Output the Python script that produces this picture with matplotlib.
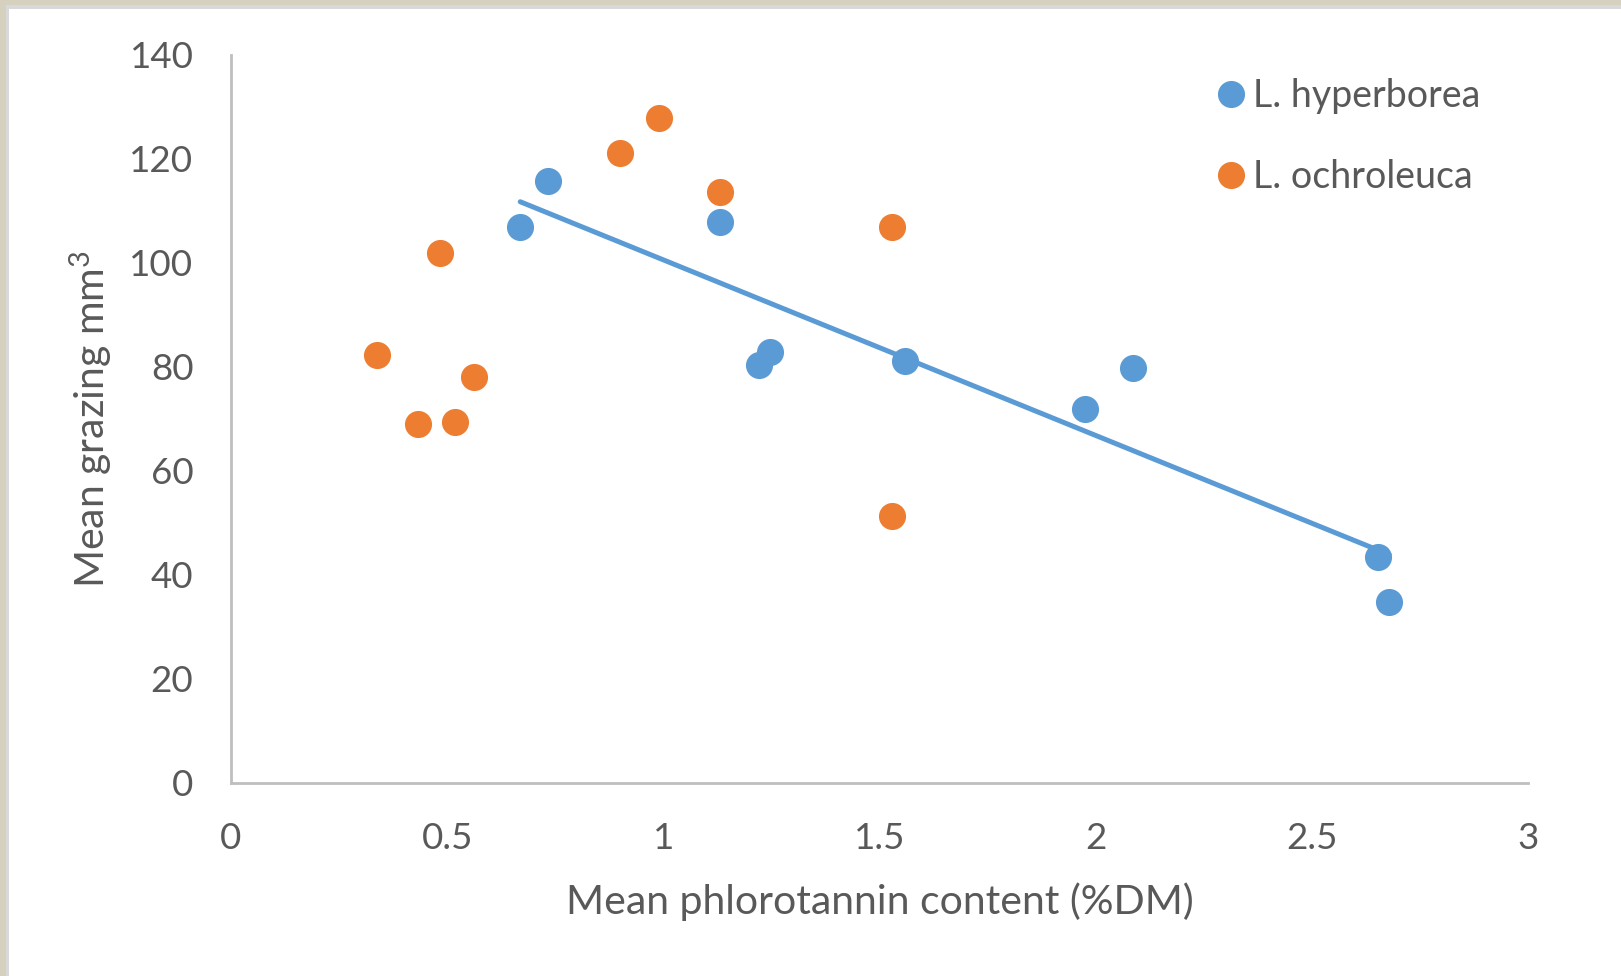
import matplotlib
matplotlib.use("Agg")
import matplotlib.pyplot as plt
from matplotlib.patches import Rectangle
import numpy as np

# data
hyp_x = [0.669, 0.734, 1.131, 1.221, 1.247, 1.558, 1.975, 2.086, 2.654, 2.679]
hyp_y = [107.0, 115.8, 107.8, 80.3, 82.9, 81.1, 71.9, 79.9, 43.5, 34.8]
och_x = [0.337, 0.433, 0.483, 0.517, 0.563, 0.900, 0.990, 1.131, 1.528, 1.528]
och_y = [82.3, 69.0, 102.0, 69.4, 78.1, 121.2, 127.9, 113.7, 107.0, 51.4]
x_ticks = [0, 0.5, 1, 1.5, 2, 2.5, 3]
x_tick_labels = ["0", "0.5", "1", "1.5", "2", "2.5", "3"]
y_ticks = [0, 20, 40, 60, 80, 100, 120, 140]

blue = "#5B9BD5"
orange = "#ED7D31"
grey_txt = "#595959"

plt.rcParams["font.family"] = ["Lato", "DejaVu Sans"]
plt.rcParams["mathtext.fontset"] = "custom"
plt.rcParams["mathtext.rm"] = "Lato"
plt.rcParams["mathtext.default"] = "rm"

W, H = 1621, 976
fig = plt.figure(figsize=(W / 100, H / 100), dpi=100)

# screenshot edges: textured strip and light frame
fig.patches.append(Rectangle((0, 0), 6 / W, 1, transform=fig.transFigure,
                             facecolor="#d6d1bf", edgecolor="none"))
fig.patches.append(Rectangle((0, 1 - 5 / H), 1, 5 / H, transform=fig.transFigure,
                             facecolor="#d6d1bf", edgecolor="none"))
fig.patches.append(Rectangle((6 / W, 0), 3 / W, 1 - 5 / H, transform=fig.transFigure,
                             facecolor="#d9d9d9", edgecolor="none"))
fig.patches.append(Rectangle((6 / W, 1 - 9 / H), 1, 4 / H, transform=fig.transFigure,
                             facecolor="#d9d9d9", edgecolor="none"))

ax = fig.add_axes([231 / W, 1 - 783 / H, (1528 - 231) / W, (783 - 55) / H])

ax.plot(hyp_x, hyp_y, "o", color=blue, markersize=18.5, label="L. hyperborea", zorder=3)
ax.plot(och_x, och_y, "o", color=orange, markersize=18.5, label="L. ochroleuca", zorder=3)

# linear trendline for L. hyperborea
slope, icpt = np.polyfit(hyp_x, hyp_y, 1)
tx = np.array([min(hyp_x), max(hyp_x)])
ax.plot(tx, slope * tx + icpt, color=blue, linewidth=3.6, solid_capstyle="round", zorder=2)

ax.set_xlim(0, 3)
ax.set_ylim(0, 140)
ax.set_xticks(x_ticks)
ax.set_xticklabels(x_tick_labels)
ax.set_yticks(y_ticks)
ax.tick_params(length=0, labelsize=26.5, labelcolor=grey_txt)
ax.tick_params(axis="x", pad=28)
ax.tick_params(axis="y", pad=27)

for s in ["top", "right"]:
    ax.spines[s].set_visible(False)
for s in ["left", "bottom"]:
    ax.spines[s].set_color("#bfbfbf")
    ax.spines[s].set_linewidth(2)

ax.set_xlabel("Mean phlorotannin content (%DM)", fontsize=29.5, color=grey_txt, labelpad=20)
ax.set_ylabel("Mean grazing mm$^{3}$", fontsize=29.5, color=grey_txt, labelpad=10)

leg = ax.legend(loc="upper left", bbox_to_anchor=(1197 / W, 1 - 63 / H),
                bbox_transform=fig.transFigure, frameon=False, fontsize=27,
                handletextpad=0.1, labelspacing=1.2, handlelength=1.0,
                borderaxespad=0)
for t in leg.get_texts():
    t.set_color(grey_txt)

fig.savefig("out.png", dpi=100, facecolor="white")
